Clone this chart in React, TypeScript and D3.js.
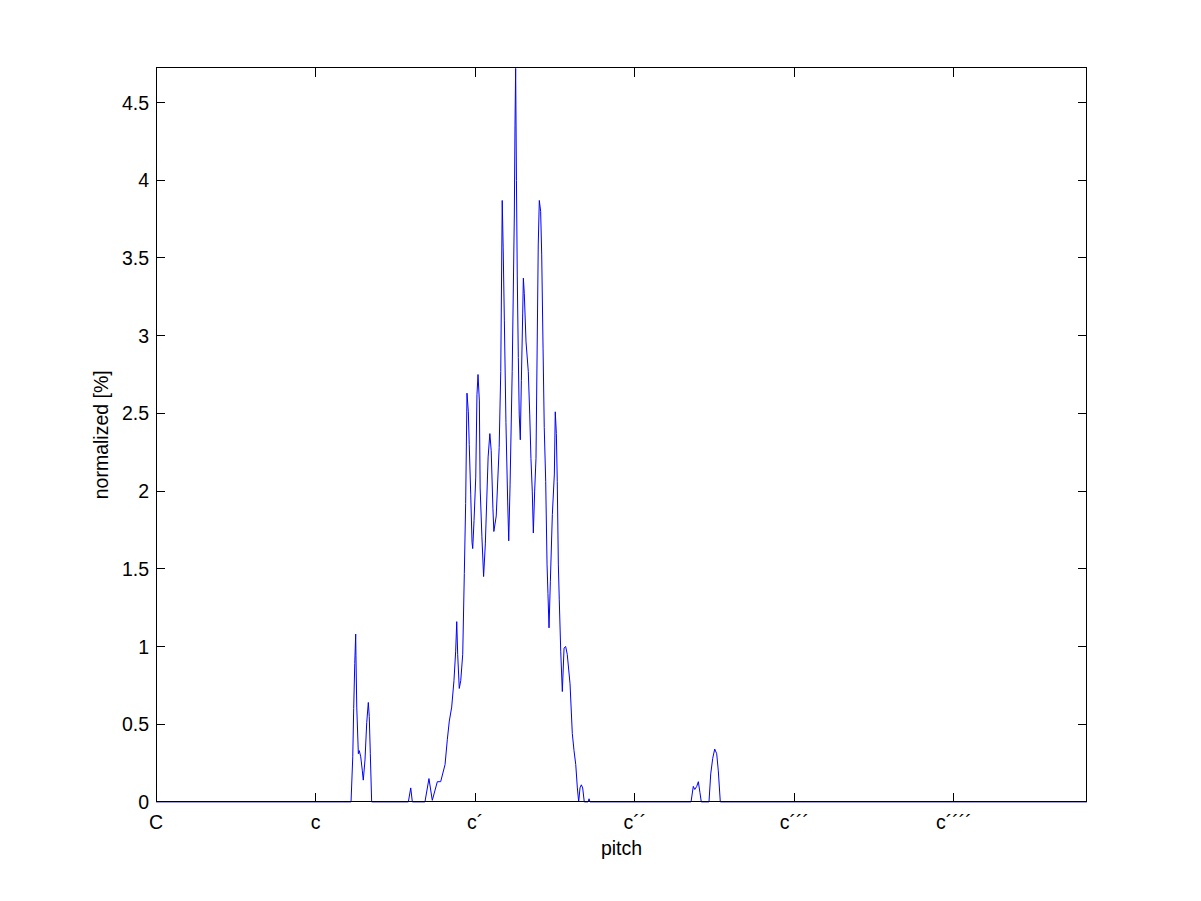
import React from "react";
import * as d3 from "d3";

// pitch in semitones above C (C = 0), value in normalized [%]
const pitch: number[] = [
  0, 14.66, 14.79, 14.86, 14.94, 15.01, 15.03, 15.09, 15.21, 15.28, 15.39, 15.51, 15.58, 15.71, 15.84, 15.96, 16.03, 16.11, 16.21,
  18.97, 19.15, 19.27,
  20.22, 20.52, 20.77, 21.15, 21.4, 21.73, 21.9, 22.05, 22.23, 22.4, 22.53, 22.61, 22.68, 22.8, 22.91, 23.06, 23.18, 23.28, 23.38,
  23.48, 23.55, 23.66, 23.76, 23.81, 23.91, 24.04, 24.13, 24.21, 24.31, 24.37, 24.5, 24.63, 24.76, 24.97, 25.1, 25.2, 25.33, 25.4,
  25.58, 25.8, 25.92, 26.03, 26.1, 26.19, 26.31, 26.44, 26.52, 26.62, 26.78, 26.94, 26.99, 27.04, 27.1, 27.16, 27.24, 27.31, 27.39,
  27.47, 27.57, 27.62, 27.69, 27.82, 27.99, 28.1, 28.19, 28.29, 28.37, 28.47, 28.57, 28.67, 28.74, 28.82, 28.92, 29.0, 29.1, 29.19,
  29.3, 29.4, 29.47, 29.55, 29.65, 29.8, 29.95, 30.02, 30.1, 30.17, 30.25, 30.32, 30.43, 30.55, 30.68, 30.8, 30.92, 31.13, 31.3,
  31.43, 31.56, 31.68, 31.78, 31.88, 31.98, 32.08, 32.2, 32.48, 32.56, 32.63,
  40.23, 40.4, 40.51, 40.66, 40.78, 40.9, 41.0, 41.58, 41.71, 41.86, 42.01, 42.16, 42.28, 42.43, 70,
];
const normalized: number[] = [
  0, 0, 0.29, 0.6, 0.89, 1.08, 0.94, 0.61, 0.31, 0.33, 0.29, 0.2, 0.14, 0.27, 0.51, 0.64, 0.55, 0.31, 0,
  0, 0.09, 0,
  0, 0.15, 0.01, 0.13, 0.13, 0.24, 0.4, 0.52, 0.61, 0.78, 0.97, 1.16, 0.95, 0.73, 0.78, 0.95, 1.47, 1.92, 2.63,
  2.51, 2.3, 1.98, 1.67, 1.63, 1.81, 2.09, 2.62, 2.75, 2.58, 2.02, 1.71, 1.45, 1.66, 2.22, 2.37, 2.26, 1.89, 1.74,
  1.84, 2.28, 2.77, 3.87, 3.57, 3.1, 2.44, 1.93, 1.68, 2.04, 2.77, 3.77, 4.35, 4.72, 4.0, 3.39, 2.86, 2.49, 2.33,
  2.71, 3.14, 3.37, 3.27, 2.96, 2.77, 2.49, 2.21, 2.0, 1.73, 2.0, 2.21, 3.03, 3.59, 3.87, 3.8, 3.52, 2.92, 2.41,
  2.06, 1.53, 1.34, 1.12, 1.42, 1.85, 2.11, 2.51, 2.37, 2.06, 1.53, 1.3, 0.97, 0.71, 0.99, 1.0, 0.95, 0.76, 0.44,
  0.33, 0.24, 0.09, 0, 0.09, 0.11, 0.09, 0, 0, 0.02, 0,
  0, 0.1, 0.08, 0.1, 0.13, 0.06, 0, 0, 0.18, 0.28, 0.34, 0.31, 0.2, 0, 0,
];

const xTickValues: number[] = [0, 12, 24, 36, 48, 60];
const xTickLabels: string[] = ["C", "c", "c\u00B4", "c\u00B4\u00B4", "c\u00B4\u00B4\u00B4", "c\u00B4\u00B4\u00B4\u00B4"];
const yTickValues: number[] = [0, 0.5, 1, 1.5, 2, 2.5, 3, 3.5, 4, 4.5];
const xDomain: [number, number] = [0, 70];
const yDomain: [number, number] = [0, 4.725];

const W = 1201;
const H = 901;
const left = 156.1;
const right = 1086.9;
const top = 67.6;
const bottom = 801.9;
const tickLen = 9.3;
const font = "Arial, 'Liberation Sans', sans-serif";
const fs = 19.5;

export default function App() {
  const x = d3.scaleLinear().domain(xDomain).range([left, right]);
  const y = d3.scaleLinear().domain(yDomain).range([bottom, top]);
  const pts: [number, number][] = pitch.map((p, i) => [p, normalized[i]]);
  const line = d3
    .line<[number, number]>()
    .x((d) => x(d[0]))
    .y((d) => y(d[1]));

  return (
    <svg
      width={W}
      height={H}
      style={{ position: "absolute", left: 0, top: 0, background: "#fff" }}
      fontFamily={font}
    >
      <rect x={0} y={0} width={W} height={H} fill="#fff" />
      <rect x={left} y={top} width={right - left} height={bottom - top} fill="#fff" />
      <path d={line(pts) || ""} fill="none" stroke="#0000ff" strokeWidth={1} />
      <rect
        x={left}
        y={top}
        width={right - left}
        height={bottom - top}
        fill="none"
        stroke="#000"
        strokeWidth={1}
        shapeRendering="crispEdges"
      />
      {xTickValues.map((v, i) => (
        <g key={"xt" + i}>
          <line x1={x(v)} x2={x(v)} y1={bottom} y2={bottom - tickLen} stroke="#000" shapeRendering="crispEdges" />
          <line x1={x(v)} x2={x(v)} y1={top} y2={top + tickLen} stroke="#000" shapeRendering="crispEdges" />
          <text x={x(v)} y={bottom + 27} textAnchor="middle" fontSize={fs} fill="#000">
            {xTickLabels[i]}
          </text>
        </g>
      ))}
      {yTickValues.map((v, i) => (
        <g key={"yt" + i}>
          <line x1={left} x2={left + tickLen} y1={y(v)} y2={y(v)} stroke="#000" shapeRendering="crispEdges" />
          <line x1={right} x2={right - tickLen} y1={y(v)} y2={y(v)} stroke="#000" shapeRendering="crispEdges" />
          <text x={left - 7} y={y(v)} dy="0.36em" textAnchor="end" fontSize={fs} fill="#000">
            {String(v)}
          </text>
        </g>
      ))}
      <text x={(left + right) / 2} y={bottom + 53} textAnchor="middle" fontSize={fs} fill="#000">
        pitch
      </text>
      <text
        transform={`translate(108, ${(top + bottom) / 2}) rotate(-90)`}
        textAnchor="middle"
        fontSize={fs}
        fill="#000"
      >
        normalized [%]
      </text>
    </svg>
  );
}
